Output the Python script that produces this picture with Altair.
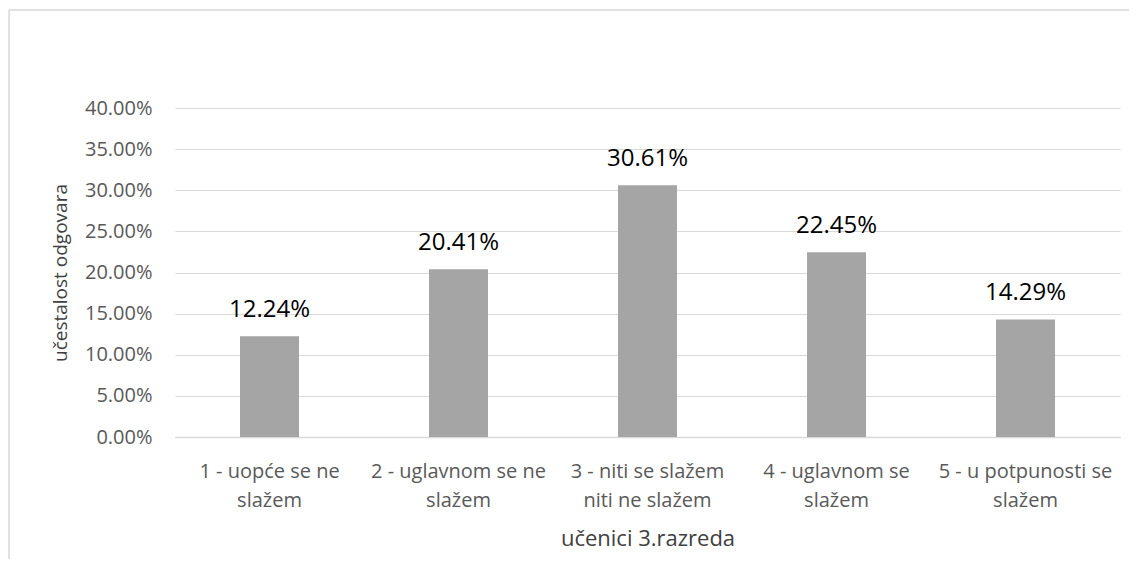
import altair as alt
import pandas as pd

categories = [
    "1 - uopće se ne\nslažem",
    "2 - uglavnom se ne\nslažem",
    "3 - niti se slažem\nniti ne slažem",
    "4 - uglavnom se\nslažem",
    "5 - u potpunosti se\nslažem",
]
values = [0.1224, 0.2041, 0.3061, 0.2245, 0.1429]
y_ticks = [0, 0.05, 0.10, 0.15, 0.20, 0.25, 0.30, 0.35, 0.40]

df = pd.DataFrame({"cat": categories, "val": values})

FONT = "Open Sans"

x_enc = alt.X(
    "cat:N",
    sort=categories,
    title="učenici 3.razreda",
    scale=alt.Scale(paddingInner=0, paddingOuter=0),
    axis=alt.Axis(
        labelAngle=0,
        labelExpr="split(datum.label, '\\n')",
        labelFontSize=20,
        labelColor="#595959",
        labelFont=FONT,
        labelPadding=24,
        labelLineHeight=29,
        labelLimit=300,
        ticks=False,
        domainColor="#d9d9d9",
        domainWidth=1.5,
        titleFont=FONT,
        titleFontSize=22,
        titleFontWeight="normal",
        titleColor="#404040",
        titlePadding=18,
        grid=False,
    ),
)

y_enc = alt.Y(
    "val:Q",
    scale=alt.Scale(domain=[0, 0.4]),
    title="učestalost odgovara",
    axis=alt.Axis(
        values=y_ticks,
        format=".2%",
        labelFontSize=20,
        labelColor="#595959",
        labelFont=FONT,
        labelPadding=23,
        ticks=False,
        domain=False,
        gridColor="#d9d9d9",
        gridWidth=1.2,
        titleFont=FONT,
        titleFontSize=19,
        titleFontWeight="normal",
        titleColor="#404040",
        titlePadding=14,
    ),
)

base = alt.Chart(df)

bars = base.mark_bar(color="#a5a5a5", size=59).encode(x=x_enc, y=y_enc)

labels = base.mark_text(
    baseline="alphabetic", dy=-19, fontSize=24, font=FONT, color="#000000"
).encode(
    x=alt.X("cat:N", sort=categories),
    y="val:Q",
    text=alt.Text("val:Q", format=".2%"),
)

frame = pd.DataFrame({"a": [0]})
top_line = alt.Chart(frame).mark_rule(
    stroke="#d9d9d9", strokeWidth=1.5, clip=False
).encode(x=alt.value(-166), x2=alt.value(1400), y=alt.value(-98))
left_line = alt.Chart(frame).mark_rule(
    stroke="#d9d9d9", strokeWidth=1.5, clip=False
).encode(x=alt.value(-166), y=alt.value(-98), y2=alt.value(700))

chart = (
    alt.layer(top_line, left_line, bars, labels)
    .properties(
        width=945,
        height=329,
        background="white",
        autosize=alt.AutoSizeParams(type="none"),
        padding={"left": 167, "top": 100, "right": 9, "bottom": 122},
    )
    .configure_view(strokeWidth=0, stroke="transparent")
)

chart.save("out.html", embed_options={"renderer": "svg", "actions": False})
